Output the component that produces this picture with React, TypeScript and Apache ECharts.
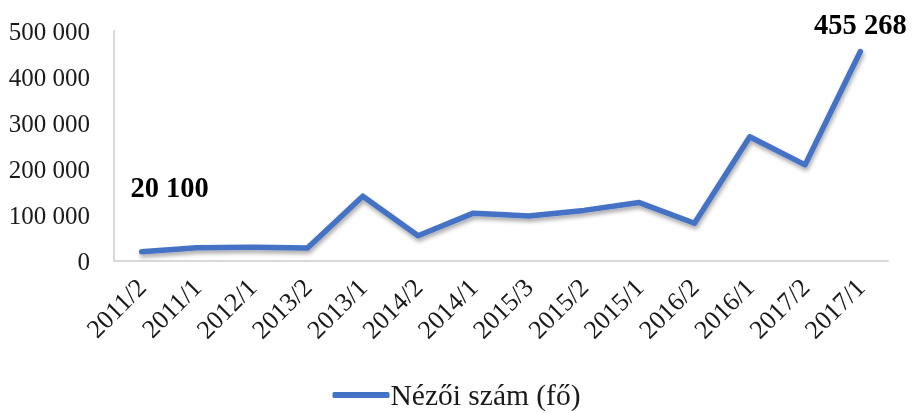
import React, { useEffect, useRef } from "react";
import * as echarts from "echarts";

const categories = [
  "2011/2", "2011/1", "2012/1", "2013/2", "2013/1", "2014/2", "2014/1",
  "2015/3", "2015/2", "2015/1", "2016/2", "2016/1", "2017/2", "2017/1",
];
const viewers = [
  20100, 29000, 30000, 28000, 141000, 55000, 104000,
  98000, 110000, 127000, 82000, 270000, 209000, 455268,
];
const yTicks = [0, 100000, 200000, 300000, 400000, 500000];
const seriesName = "Nézői szám (fő)";

const FONT = "'Liberation Serif', 'Times New Roman', serif";
const BLUE = "#4472C4";

const fmt = (v: number) => String(v).replace(/\B(?=(\d{3})+(?!\d))/g, " ");

export default function App() {
  const ref = useRef<HTMLDivElement>(null);
  useEffect(() => {
    if (!ref.current) return;
    const chart = echarts.init(ref.current, null, { renderer: "svg" });
    const last = viewers.length - 1;
    const data = viewers.map((v, i) => {
      if (i === 0) {
        return {
          value: v,
          label: { show: true, position: "top", offset: [28, -44] },
        };
      }
      if (i === last) {
        return {
          value: v,
          label: { show: true, position: "top", offset: [0, -7] },
        };
      }
      return { value: v };
    });
    chart.setOption({
      animation: false,
      textStyle: { fontFamily: FONT },
      grid: { left: 114, right: 25, top: 31, bottom: 152, containLabel: false },
      legend: {
        bottom: -2,
        left: "center",
        data: [{ name: seriesName, icon: "roundRect" }],
        itemWidth: 57,
        itemHeight: 6,
        itemGap: 4,
        textStyle: { fontFamily: FONT, fontSize: 29.5, color: "#1a1a1a", padding: [0, 0, 0, -4] },
      },
      xAxis: {
        type: "category",
        data: categories,
        boundaryGap: true,
        axisLine: { show: true, lineStyle: { color: "#d9d9d9", width: 2 } },
        axisTick: { show: false },
        axisLabel: {
          rotate: 45,
          interval: 0,
          margin: 22,
          fontFamily: FONT,
          fontSize: 26,
          color: "#1a1a1a",
        },
      },
      yAxis: {
        type: "value",
        min: yTicks[0],
        max: yTicks[yTicks.length - 1],
        interval: 100000,
        axisLine: { show: true, lineStyle: { color: "#d9d9d9", width: 2 } },
        axisTick: { show: false },
        splitLine: { show: false },
        axisLabel: {
          formatter: (v: number) => fmt(v),
          margin: 24,
          fontFamily: FONT,
          fontSize: 25,
          color: "#1a1a1a",
        },
      },
      series: [
        {
          name: seriesName,
          type: "line",
          data,
          symbol: "circle",
          symbolSize: 1,
          showSymbol: true,
          itemStyle: { color: BLUE },
          lineStyle: {
            color: BLUE,
            width: 5.5,
            cap: "round",
            join: "round",
            shadowColor: "rgba(0,0,0,0.35)",
            shadowBlur: 4,
            shadowOffsetX: 1,
            shadowOffsetY: 3,
          },
          label: {
            show: false,
            formatter: (p: any) => fmt(p.value),
            fontFamily: FONT,
            fontSize: 28.5,
            fontWeight: "bold",
            color: "#000",
          },
        },
      ],
    });
    return () => chart.dispose();
  }, []);
  return (
    <div
      ref={ref}
      style={{ position: "fixed", left: 0, top: 0, width: 913, height: 413 }}
    />
  );
}
